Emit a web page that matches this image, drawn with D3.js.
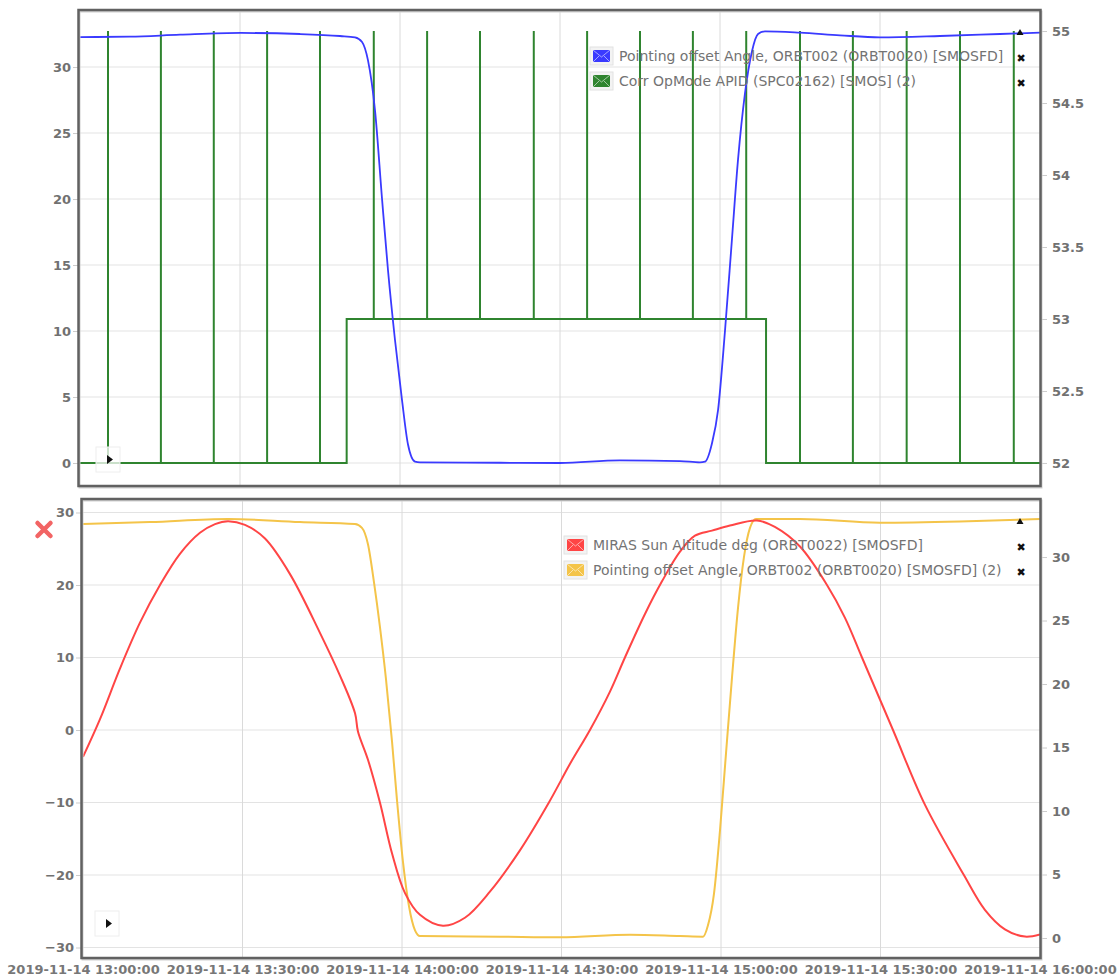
<!DOCTYPE html>
<html>
<head>
<meta charset="utf-8">
<script src="https://cdn.jsdelivr.net/npm/d3@7"></script>
<style>
  body { margin: 0; background: #fff; }
  svg { display: block; }
  text { font-family: "DejaVu Sans", Verdana, sans-serif; }
</style>
</head>
<body>
<svg id="chart" width="1119" height="980"></svg>
<script>
const day = "2019-11-14";
const parseTime = d3.timeParse("%Y-%m-%d %H:%M:%S");
const T = s => parseTime(`${day} ${s}`);

// ---- data ----
const timeDomain = ["13:00:00", "16:00:00"];
const gridTimes = ["13:30:00", "14:00:00", "14:30:00", "15:00:00", "15:30:00"];
const axisTimes = ["13:00:00", "13:30:00", "14:00:00", "14:30:00", "15:00:00", "15:30:00", "16:00:00"];

// Pointing offset Angle, ORBT002 (ORBT0020) [SMOSFD]  -> top, left axis
const pointingAngle = [
  ["13:00:00", 32.27], ["13:09:20", 32.3], ["13:18:45", 32.45], ["13:30:10", 32.58],
  ["13:41:15", 32.5], ["13:48:45", 32.35], ["13:51:34", 32.25], ["13:52:53", 31.9],
  ["13:54:00", 30.5], ["13:55:19", 26.7], ["13:56:38", 20], ["13:57:45", 14.6],
  ["13:59:04", 9.3], ["14:00:22", 4.8], ["14:01:30", 1.4], ["14:02:49", 0.1],
  ["14:03:45", 0.05], ["14:18:45", 0.02], ["14:30:00", 0.0], ["14:41:15", 0.2],
  ["14:52:30", 0.15], ["14:56:15", 0.05], ["14:57:11", 0.1], ["14:58:30", 1.5],
  ["14:59:38", 4], ["15:00:56", 10], ["15:02:15", 17], ["15:03:23", 23],
  ["15:04:41", 28], ["15:06:00", 31.2], ["15:07:08", 32.5], ["15:08:26", 32.7],
  ["15:15:00", 32.6], ["15:22:30", 32.4], ["15:30:00", 32.25], ["15:41:15", 32.35],
  ["15:52:30", 32.5], ["16:00:00", 32.6]
];

// Corr OpMode APID (SPC02162) [SMOS] (2)  -> top, right axis
const opModeLevels = [["13:00:00", 52], ["13:50:00", 53], ["15:08:38", 52], ["16:00:00", 52]];
const opModeSpikes = [
  "13:05:15", "13:15:10", "13:25:05", "13:35:05", "13:45:00", "13:55:05",
  "14:05:05", "14:15:00", "14:25:05", "14:35:05", "14:45:00", "14:54:55",
  "15:04:55", "15:15:00", "15:24:55", "15:35:00", "15:45:00", "15:55:05"
];
const opModeSpikeValue = 55;

// MIRAS Sun Altitude deg (ORBT0022) [SMOSFD]  -> bottom, left axis
const sunAltitude = [
  ["13:00:00", -3.7], ["13:03:12", 1.5], ["13:06:58", 8.5], ["13:10:43", 14.8],
  ["13:14:29", 20], ["13:18:14", 24.3], ["13:22:00", 27.2], ["13:24:50", 28.4],
  ["13:27:16", 28.8], ["13:30:28", 28.3], ["13:34:14", 26.4], ["13:38:56", 21.5],
  ["13:44:34", 13.4], ["13:48:20", 7.5], ["13:51:10", 2.3], ["13:51:43", -0.2],
  ["13:53:36", -4.1], ["13:55:51", -10], ["13:58:07", -17], ["14:00:34", -22.5],
  ["14:03:23", -25.5], ["14:07:42", -27], ["14:11:50", -25.9], ["14:16:32", -22.3],
  ["14:22:11", -16.6], ["14:27:38", -10], ["14:31:35", -4.7], ["14:35:21", 0],
  ["14:39:07", 5.3], ["14:41:56", 10], ["14:45:42", 16], ["14:48:54", 20.5],
  ["14:52:17", 24.6], ["14:55:06", 26.8], ["14:58:18", 27.5], ["15:01:41", 28.2],
  ["15:06:46", 28.9], ["15:10:08", 28.0], ["15:14:51", 25.3], ["15:19:56", 20],
  ["15:23:18", 15.5], ["15:26:31", 10], ["15:32:21", 0], ["15:38:21", -10.3],
  ["15:45:41", -20], ["15:49:38", -24.8], ["15:53:24", -27.5], ["15:57:10", -28.5],
  ["16:00:00", -28.2]
];

// Pointing offset Angle, ORBT002 (ORBT0020) [SMOSFD] (2)  -> bottom, right axis
const pointingAngle2 = [
  ["13:00:00", 32.6], ["13:12:36", 32.75], ["13:27:18", 33.0], ["13:40:49", 32.75],
  ["13:51:09", 32.6], ["13:52:28", 32.3], ["13:53:36", 31.0], ["13:54:44", 28],
  ["13:55:51", 24.5], ["13:56:59", 20.4], ["13:58:07", 15.5], ["13:59:03", 10.9],
  ["14:00:11", 6], ["14:01:19", 2.5], ["14:02:27", 0.6], ["14:03:23", 0.15],
  ["14:18:26", 0.1], ["14:29:43", 0.05], ["14:42:53", 0.25], ["14:52:17", 0.15],
  ["14:56:37", 0.1], ["14:57:33", 1], ["14:58:41", 3.5], ["14:59:49", 8.5],
  ["15:00:56", 14.5], ["15:02:04", 20.5], ["15:03:12", 26], ["15:04:19", 30],
  ["15:05:27", 32.3], ["15:06:35", 33], ["15:14:51", 33], ["15:29:54", 32.7],
  ["15:44:57", 32.8], ["16:00:00", 33]
];

const topLeftTicks = [0, 5, 10, 15, 20, 25, 30];
const topRightTicks = [52, 52.5, 53, 53.5, 54, 54.5, 55];
const bottomLeftTicks = [-30, -20, -10, 0, 10, 20, 30];
const bottomRightTicks = [0, 5, 10, 15, 20, 25, 30];

const topLegend = [
  { label: "Pointing offset Angle, ORBT002 (ORBT0020) [SMOSFD]", color: "#3a3aff" },
  { label: "Corr OpMode APID (SPC02162) [SMOS] (2)", color: "#2f842f" }
];
const bottomLegend = [
  { label: "MIRAS Sun Altitude deg (ORBT0022) [SMOSFD]", color: "#ff4545" },
  { label: "Pointing offset Angle, ORBT002 (ORBT0020) [SMOSFD] (2)", color: "#f4c449" }
];

// ---- layout ----
const svg = d3.select("#chart");
const fmt = d3.timeFormat("%Y-%m-%d %H:%M:%S");

const topBox = { x0: 80, x1: 1040, y0: 10, y1: 486 };
const botBox = { x0: 83, x1: 1040, y0: 499, y1: 958 };

const xTop = d3.scaleTime().domain(timeDomain.map(T)).range([topBox.x0, topBox.x1]);
const xBot = d3.scaleTime().domain(timeDomain.map(T)).range([botBox.x0, botBox.x1]);

const yTopL = d3.scaleLinear().domain([-1.742, 34.32]).range([topBox.y1, topBox.y0]);
const yTopR = d3.scaleLinear().domain([51.84, 55.146]).range([topBox.y1, topBox.y0]);
const yBotL = d3.scaleLinear().domain([-31.45, 31.86]).range([botBox.y1, botBox.y0]);
const yBotR = d3.scaleLinear().domain([-1.575, 34.57]).range([botBox.y1, botBox.y0]);

function drawPanel(id, box, x, yL, yR, leftTicks, rightTicks) {
  const g = svg.append("g");

  g.append("clipPath").attr("id", id)
    .append("rect")
    .attr("x", box.x0).attr("y", box.y0)
    .attr("width", box.x1 - box.x0).attr("height", box.y1 - box.y0);

  // horizontal grid
  g.append("g").selectAll("line").data(leftTicks).join("line")
    .attr("x1", box.x0).attr("x2", box.x1)
    .attr("y1", d => yL(d)).attr("y2", d => yL(d))
    .attr("stroke", "#e3e3e3").attr("stroke-width", 1.2);

  // vertical grid
  g.append("g").selectAll("line").data(gridTimes.map(T)).join("line")
    .attr("x1", d => x(d)).attr("x2", d => x(d))
    .attr("y1", box.y0).attr("y2", box.y1)
    .attr("stroke", "#dadada").attr("stroke-width", 1);

  const left = g.append("g")
    .attr("transform", `translate(${box.x0 - 2},0)`)
    .call(d3.axisLeft(yL).tickValues(leftTicks).tickSize(5).tickPadding(2));
  const right = g.append("g")
    .attr("transform", `translate(${box.x1 + 1},0)`)
    .call(d3.axisRight(yR).tickValues(rightTicks).tickSize(6).tickPadding(5).tickFormat(d3.format("")));
  [left, right].forEach(a => {
    a.select(".domain").remove();
    a.selectAll(".tick line").attr("stroke", "#ccc");
    a.selectAll("text")
      .attr("fill", "#717171")
      .attr("font-size", 13)
      .attr("font-weight", "bold")
      .style("font-family", "'DejaVu Sans', Verdana, sans-serif");
  });

  const plot = g.append("g").attr("clip-path", `url(#${id})`);

  // frame with a soft shadow
  g.append("rect")
    .attr("x", box.x0 - 0.5).attr("y", box.y0 + 1.5)
    .attr("width", box.x1 - box.x0 + 2).attr("height", box.y1 - box.y0)
    .attr("fill", "none").attr("stroke", "#cfcfcf").attr("stroke-width", 2);
  g.append("rect")
    .attr("x", box.x0 - 1.5).attr("y", box.y0)
    .attr("width", box.x1 - box.x0 + 2).attr("height", box.y1 - box.y0)
    .attr("fill", "none").attr("stroke", "#616161").attr("stroke-width", 2.5);

  return { g, plot };
}

function drawLegend(g, x, y, closeX, items) {
  items.forEach((it, i) => {
    const row = g.append("g").attr("transform", `translate(${x},${y + i * 25})`);
    row.append("rect")
      .attr("x", 0).attr("y", -9).attr("width", 23).attr("height", 18)
      .attr("fill", "#f3f3f3").attr("stroke", "#e2e2e2");
    row.append("rect")
      .attr("x", 3).attr("y", -6).attr("width", 17).attr("height", 12)
      .attr("fill", it.color);
    row.append("path")
      .attr("d", "M3,-6 L11.5,1 L20,-6 M3,6 L9,0 M20,6 L14,0")
      .attr("fill", "none").attr("stroke", "#fff").attr("stroke-opacity", 0.55)
      .attr("stroke-width", 1);
    row.append("text")
      .attr("x", 29).attr("y", 5)
      .attr("fill", "#737373").attr("font-size", 14)
      .text(it.label);
    row.append("text")
      .attr("x", closeX - x).attr("y", 6)
      .attr("text-anchor", "middle")
      .attr("fill", "#111").attr("font-size", 11).attr("font-weight", "bold")
      .text("\u2716");
  });
}

function cursorMarkers(g, upX, upY, boxX, boxY) {
  g.append("path")
    .attr("d", `M${upX - 3.5},${upY + 3} L${upX},${upY - 3} L${upX + 3.5},${upY + 3} Z`)
    .attr("fill", "#111");
  g.append("rect")
    .attr("x", boxX).attr("y", boxY).attr("width", 24).attr("height", 25)
    .attr("fill", "#fff").attr("fill-opacity", 0.75).attr("stroke", "#eee");
  g.append("path")
    .attr("d", `M${boxX + 11},${boxY + 8} L${boxX + 17},${boxY + 12.5} L${boxX + 11},${boxY + 17} Z`)
    .attr("fill", "#111");
}

// ---- top panel ----
const topPanel = drawPanel("clipTop", topBox, xTop, yTopL, yTopR, topLeftTicks, topRightTicks);

// OpMode: level steps plus spikes
const opPts = [];
const levelAt = t => {
  let v = opModeLevels[0][1];
  opModeLevels.forEach(([s, val]) => { if (T(s) <= t) v = val; });
  return v;
};
const events = opModeLevels.map(([s, v]) => ({ t: T(s), kind: "level", v }))
  .concat(opModeSpikes.map(s => ({ t: T(s), kind: "spike" })))
  .sort((a, b) => a.t - b.t);
let cur = opModeLevels[0][1];
events.forEach(e => {
  if (e.kind === "level") {
    opPts.push([e.t, cur]);
    cur = e.v;
    opPts.push([e.t, cur]);
  } else {
    const base = levelAt(e.t);
    opPts.push([e.t, base], [e.t, opModeSpikeValue], [e.t, base]);
  }
});

topPanel.plot.append("path")
  .datum(opPts)
  .attr("fill", "none").attr("stroke", "#2f842f").attr("stroke-width", 2)
  .attr("d", d3.line().x(d => xTop(d[0])).y(d => yTopR(d[1])));

topPanel.plot.append("path")
  .datum(pointingAngle)
  .attr("fill", "none").attr("stroke", "#3a3aff").attr("stroke-width", 1.8)
  .attr("d", d3.line().curve(d3.curveMonotoneX).x(d => xTop(T(d[0]))).y(d => yTopL(d[1])));

drawLegend(topPanel.g, 590, 56, 1021, topLegend);
cursorMarkers(topPanel.g, 1020, 32, 96, 447);

// ---- bottom panel ----
const botPanel = drawPanel("clipBot", botBox, xBot, yBotL, yBotR, bottomLeftTicks, bottomRightTicks);

botPanel.plot.append("path")
  .datum(pointingAngle2)
  .attr("fill", "none").attr("stroke", "#f4c449").attr("stroke-width", 2)
  .attr("d", d3.line().curve(d3.curveMonotoneX).x(d => xBot(T(d[0]))).y(d => yBotR(d[1])));

botPanel.plot.append("path")
  .datum(sunAltitude)
  .attr("fill", "none").attr("stroke", "#ff4545").attr("stroke-width", 2)
  .attr("d", d3.line().curve(d3.curveCatmullRom.alpha(0.5)).x(d => xBot(T(d[0]))).y(d => yBotL(d[1])));

drawLegend(botPanel.g, 564, 545, 1021, bottomLegend);
cursorMarkers(botPanel.g, 1020, 521, 95, 911);

// x axis labels under the bottom panel
const xAxis = svg.append("g")
  .attr("transform", `translate(0,${botBox.y1})`)
  .call(d3.axisBottom(xBot).tickValues(axisTimes.map(T)).tickSize(0).tickPadding(7).tickFormat(fmt));
xAxis.select(".domain").remove();
xAxis.selectAll("text")
  .attr("fill", "#777").attr("font-size", 13).attr("font-weight", "bold")
  .style("font-family", "'DejaVu Sans', Verdana, sans-serif");

// red remove mark on the left of the bottom panel
svg.append("path")
  .attr("d", "M37.5,523 L50.5,536 M50.5,523 L37.5,536")
  .attr("stroke", "#f26464").attr("stroke-width", 4.5).attr("stroke-linecap", "round");
</script>
</body>
</html>
